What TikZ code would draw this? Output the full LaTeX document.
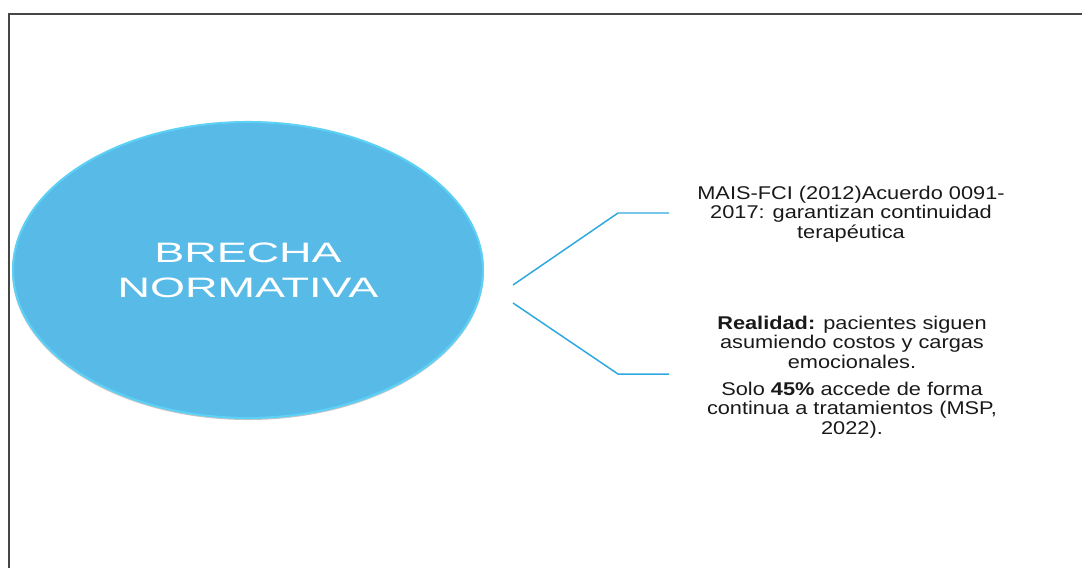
\documentclass[tikz,border=0pt]{standalone}
\usepackage{fontspec}
\setmainfont{Liberation Sans}
\newfontfamily\corefont[FakeStretch=1.6]{Liberation Sans}
\newfontfamily\notefont[FakeStretch=1.18]{Liberation Sans}
\usetikzlibrary{shapes.geometric, positioning, calc}
\definecolor{cFill}{RGB}{88,186,230}
\definecolor{cRim}{RGB}{92,208,245}
\definecolor{cLine}{RGB}{47,168,224}
\definecolor{cFrame}{RGB}{70,70,70}
\tikzset{
	core/.style   ={ellipse, minimum width=9.4cm, minimum height=5.92cm, inner sep=0pt, fill=cFill, draw=cRim, line width=1.2pt, align=center, text=white, font=\corefont\fontsize{16}{20}\selectfont},
	note/.style   ={align=center, font=\notefont\fontsize{10.5}{11.2}\selectfont, text=black!90},
	branch/.style ={draw=cLine, line width=0.85pt},
}
\begin{document}
\begin{tikzpicture}[x=0.02cm, y=-0.02cm]
	\useasboundingbox (0,0) rectangle (1082,568);
	% frame on top and left
	\draw[cFrame, line width=0.8pt] (9,568) -- (9,14) -- (1082,14);
	% central ellipse with soft edge
	\fill[gray!45] (248,271) ellipse [x radius=236, y radius=149];
	\node[core] (brecha) at (248,270) {BRECHA\\NORMATIVA};
	% text blocks
	\node[note] (norma) at (851,214) {MAIS-FCI (2012)Acuerdo 0091-\\2017: garantizan continuidad\\terapéutica};
	\node[note] (real) at (852,377) {\textbf{Realidad:} pacientes siguen\\asumiendo costos y cargas\\emocionales.\\[4pt]Solo \textbf{45\%} accede de forma\\continua a tratamientos (MSP,\\2022).};
	% branches
	\coordinate (upA) at (513,285);
	\coordinate (upB) at (618,213);
	\coordinate (upC) at (669,213);
	\coordinate (dnA) at (513,303);
	\coordinate (dnB) at (618,374);
	\coordinate (dnC) at (669,374);
	\draw[branch] (upA) -- (upB) -- (upC);
	\draw[branch] (dnA) -- (dnB) -- (dnC);
\end{tikzpicture}
\end{document}
